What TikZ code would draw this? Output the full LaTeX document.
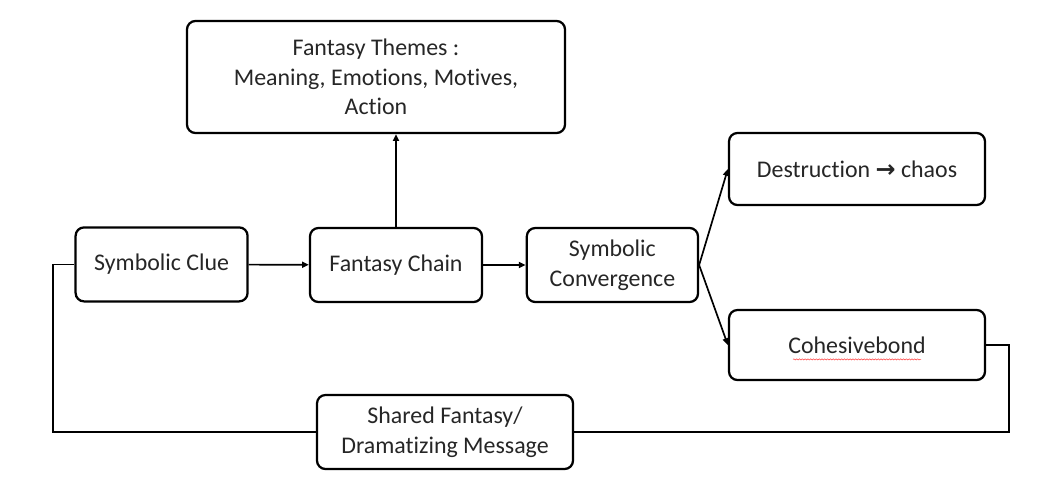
\documentclass[tikz,border=0pt]{standalone}
\usepackage{fontspec}
\setmainfont{Carlito}[Ligatures=NoCommon]
\newfontfamily\symfont{DejaVu Sans}
\usetikzlibrary{positioning,arrows.meta,decorations.pathmorphing}

\begin{document}
\begin{tikzpicture}[
  font=\fontsize{17}{21}\selectfont,
  box/.style={rectangle, rounded corners=6pt, draw=black, line width=1.6pt, text=black!85,
              minimum height=18.5mm, minimum width=43mm, inner sep=3pt, fill=white, align=center},
  wide/.style={box, minimum width=64mm},
  flow/.style={-{Triangle[length=1.7mm,width=1.5mm]}, draw=black, line width=1.2pt},
  loop/.style={draw=black, line width=1.2pt}
]
\useasboundingbox (0,0) rectangle (26.45,-12.35);

\node[box, minimum width=94.5mm, minimum height=28mm] (th) at (9.4,-1.925)
  {Fantasy Themes :\\ Meaning, Emotions, Motives,\\ Action};
\node[box] (sc) at (4.04,-6.61)   {Symbolic Clue};
\node[box] (fc) at (9.9,-6.625)   {Fantasy Chain};
\node[box, minimum width=42.8mm] (cv) at (15.31,-6.625) {Symbolic\\ Convergence};
\node[wide, minimum height=18mm] (de) at (21.425,-4.225) {Destruction {\symfont\bfseries →} chaos};
\node[wide, minimum height=17.5mm] (cb) at (21.425,-8.625) {Cohesivebond};
\node[wide] (sf) at (11.125,-10.8) {Shared Fantasy/\\ Dramatizing Message};

\coordinate (rt) at (25.225,-8.625);
\coordinate (lt) at (1.325,-6.61);

\draw[flow] (sc) -- (fc);
\draw[flow] (fc) -- (cv);
\draw[flow] (fc.north) -- (fc.north |- th.south);
\draw[flow] (cv.east) -- (de.west);
\draw[flow] (cv.east) -- (cb.west);

% feedback loop
\draw[loop] (cb.east) -- (rt) |- (sf.east);
\draw[loop] (sf.west) -| (lt) -- (sc.west);

% spell check squiggle
\draw[red!70, line width=0.4pt, decorate, decoration={snake, amplitude=0.4pt, segment length=2pt}]
  ([xshift=-1.6cm,yshift=-0.36cm]cb.center) -- ([xshift=1.6cm,yshift=-0.36cm]cb.center);
\end{tikzpicture}
\end{document}
